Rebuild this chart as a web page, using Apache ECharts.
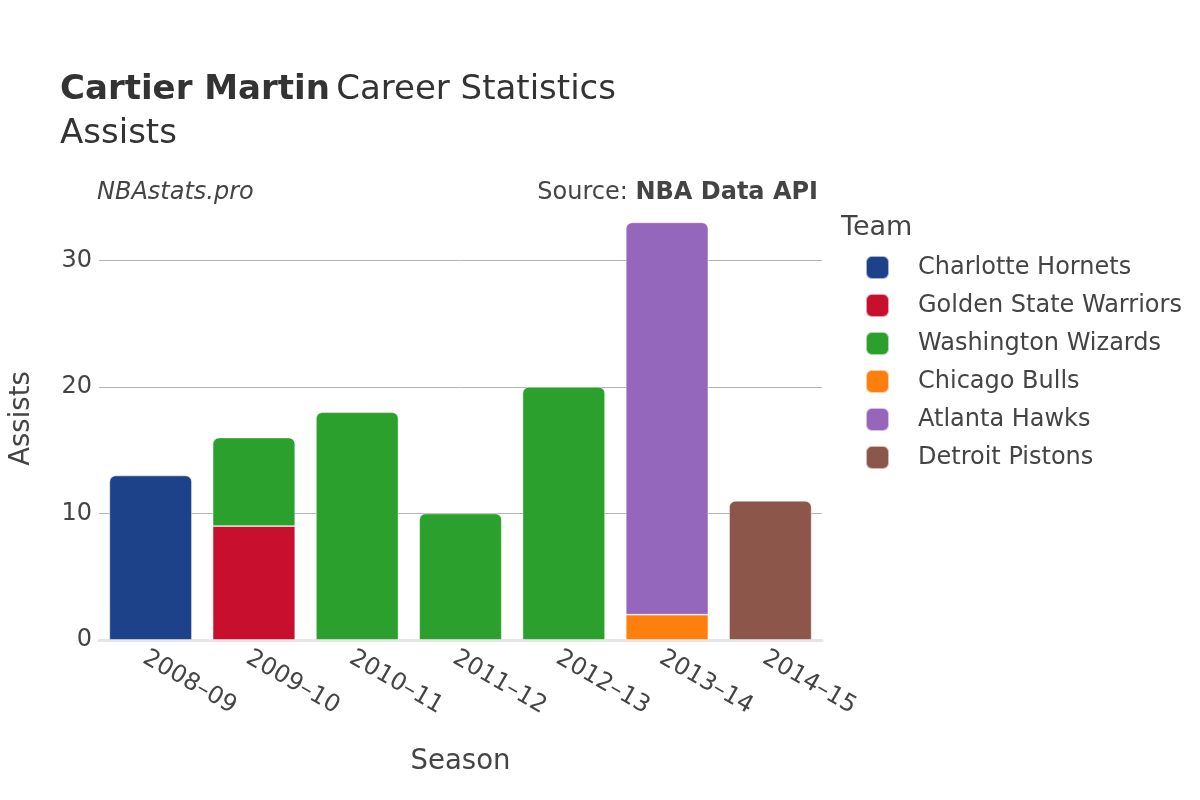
<!DOCTYPE html>
<html>
<head>
<meta charset="utf-8">
<script src="https://cdn.jsdelivr.net/npm/echarts@6/dist/echarts.min.js"></script>
<style>
html,body{margin:0;padding:0;background:#fff;}
#chart{width:1200px;height:800px;}
</style>
</head>
<body>
<div id="chart"></div>
<script>
const seasons = ['2008–09','2009–10','2010–11','2011–12','2012–13','2013–14','2014–15'];
const teams = ['Charlotte Hornets','Golden State Warriors','Washington Wizards','Chicago Bulls','Atlanta Hawks','Detroit Pistons'];
const colors = ['#1d428a','#c8102e','#2ca02c','#ff7f0e','#9467bd','#8c564b'];
const charlotte = [13, null, null, null, null, null, null];
const goldenState = [null, 9, null, null, null, null, null];
const washington = [null, 7, 18, 10, 20, null, null];
const chicago = [null, null, null, null, null, 2, null];
const atlanta = [null, null, null, null, null, 31, null];
const detroit = [null, null, null, null, null, null, 11];
const yTicks = [0, 10, 20, 30];

const values = [charlotte, goldenState, washington, chicago, atlanta, detroit];
const FONT = 'DejaVu Sans';
const TXT = '#444';

// top-of-stack series per season (rounded corners only there)
const topIdx = seasons.map((_, c) => {
  let t = -1;
  values.forEach((arr, s) => { if (arr[c] != null) t = s; });
  return t;
});

const series = teams.map((name, s) => ({
  name: name,
  type: 'bar',
  stack: 'total',
  barCategoryGap: '20%',
  itemStyle: { color: colors[s], borderColor: 'rgba(255,255,255,0.6)', borderWidth: 0.8 },
  data: values[s].map((v, c) => v == null ? null : {
    value: v,
    itemStyle: { borderRadius: topIdx[c] === s ? [6, 6, 0, 0] : 0 }
  })
}));

const chart = echarts.init(document.getElementById('chart'), null, { renderer: 'canvas' });
chart.setOption({
  animation: false,
  backgroundColor: '#fff',
  textStyle: { fontFamily: FONT, color: TXT },
  title: [{
    left: 55, top: 63,
    text: '{b|Cartier Martin} {n|Career Statistics}\n{n|Assists}',
    textStyle: {
      rich: {
        b: { fontFamily: FONT, fontWeight: 'bold', fontSize: 34, color: '#333', lineHeight: 44 },
        n: { fontFamily: FONT, fontWeight: 'normal', fontSize: 34, color: '#333', lineHeight: 44 }
      }
    }
  }, {
    left: 836, top: 209,
    text: 'Team',
    textStyle: { fontFamily: FONT, fontSize: 27, fontWeight: 'normal', color: TXT }
  }],
  graphic: [{
    type: 'text', left: 97, top: 181,
    style: { text: 'NBAstats.pro', font: 'italic 24px "DejaVu Sans"', fill: TXT }
  }, {
    type: 'text', right: 382, top: 181,
    style: {
      text: '{n|Source: }{b|NBA Data API}',
      rich: {
        n: { fontFamily: FONT, fontSize: 24, fill: TXT, color: TXT },
        b: { fontFamily: FONT, fontSize: 24, fontWeight: 'bold', fill: TXT, color: TXT }
      }
    }
  }],
  legend: {
    orient: 'vertical',
    left: 865, top: 255,
    padding: 0,
    itemWidth: 23, itemHeight: 23, itemGap: 13,
    icon: 'roundRect',
    data: teams,
    textStyle: { fontFamily: FONT, fontSize: 24, color: TXT, padding: [0, 0, 0, 24] }
  },
  grid: { left: 92, right: 378, top: 197, bottom: 160, containLabel: false },
  xAxis: {
    type: 'category',
    data: seasons,
    name: 'Season',
    nameLocation: 'middle',
    nameGap: 108,
    nameTextStyle: { fontFamily: FONT, fontSize: 27.5, color: TXT },
    axisLine: { show: true, lineStyle: { color: '#e6e6e6', width: 3 } },
    axisTick: { show: false },
    axisLabel: { rotate: -30, fontFamily: FONT, fontSize: 24, color: TXT, margin: 6, interval: 0, verticalAlign: 'top' }
  },
  yAxis: {
    type: 'value',
    min: 0, max: 35, interval: 10,
    name: 'Assists',
    nameLocation: 'middle',
    nameGap: 63,
    nameTextStyle: { fontFamily: FONT, fontSize: 27.5, color: TXT },
    axisLine: { show: false },
    axisTick: { show: false },
    axisLabel: {
      fontFamily: FONT, fontSize: 24, color: TXT, margin: 7, showMaxLabel: false,
      formatter: v => yTicks.includes(v) ? String(v) : ''
    },
    splitLine: { show: true, showMinLine: false, showMaxLine: false, lineStyle: { color: '#b5b5b5', width: 1 } }
  },
  series: series
});
</script>
</body>
</html>
